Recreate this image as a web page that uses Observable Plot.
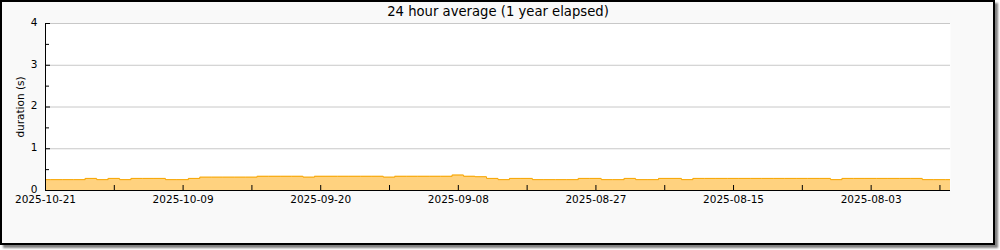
<!DOCTYPE html>
<html><head><meta charset="utf-8">
<script src="https://cdn.jsdelivr.net/npm/d3@7"></script>
<script src="https://cdn.jsdelivr.net/npm/@observablehq/plot@0.6"></script>
<style>
html,body{margin:0;padding:0;background:#fff;}
#wrap{position:relative;width:1000px;height:250px;overflow:hidden;}
#frame{position:absolute;left:0;top:0;width:995px;height:245px;box-sizing:border-box;border:2px solid #000;background:#f9f9f9;box-shadow:3px 3px 2px #808080;}
#chart{position:absolute;left:0;top:0;}
</style></head><body>
<div id="wrap"><div id="frame"></div><div id="chart"></div></div>
<script>
const title = "24 hour average (1 year elapsed)";
const yLabel = "duration (s)";
const tickLabels = ["2025-10-21","2025-10-09","2025-09-20","2025-09-08","2025-08-27","2025-08-15","2025-08-03"];
const majorTickDays = [0, 12, 24, 36, 48, 60, 72];
const minorTickDays = [6, 18, 30, 42, 54, 66, 78];
const yTicks = [0, 1, 2, 3, 4];
const yMinorTicks = [0.5, 1.5, 2.5, 3.5];
const xDomain = [0, 78.92];
const firstDay = -0.54;
const dailyValues = [
  0.26, 0.26, 0.26, 0.26, 0.29, 0.26, 0.29, 0.26, 0.29, 0.29,
  0.29, 0.26, 0.26, 0.29, 0.32, 0.32, 0.32, 0.32, 0.32, 0.34,
  0.34, 0.34, 0.34, 0.32, 0.34, 0.34, 0.34, 0.34, 0.34, 0.34,
  0.32, 0.34, 0.34, 0.34, 0.34, 0.34, 0.37, 0.34, 0.33, 0.29,
  0.26, 0.29, 0.29, 0.26, 0.26, 0.26, 0.26, 0.29, 0.29, 0.26,
  0.26, 0.29, 0.26, 0.26, 0.29, 0.29, 0.26, 0.29, 0.29, 0.29,
  0.29, 0.29, 0.29, 0.29, 0.29, 0.29, 0.29, 0.29, 0.29, 0.26,
  0.29, 0.29, 0.29, 0.29, 0.29, 0.29, 0.29, 0.26, 0.26, 0.26
];

const rows = dailyValues.map((v, i) => ({day: firstDay + i, v}));
rows.push({day: firstDay + dailyValues.length, v: dailyValues[dailyValues.length - 1]});

const plot = Plot.plot({
  width: 1000, height: 250,
  marginLeft: 45, marginRight: 50, marginTop: 23, marginBottom: 60,
  style: {background: "transparent", fontFamily: "'DejaVu Sans', sans-serif", fontSize: "10.5px", color: "#000"},
  x: {domain: xDomain},
  y: {domain: [0, 4]},
  marks: [
    Plot.frame({fill: "white", stroke: null}),
    Plot.gridY(yTicks.slice(1), {stroke: "#c8c8c8", strokeOpacity: 1}),
    Plot.areaY(rows, {x: "day", y: "v", curve: "step-after", fill: "#ffd27f", clip: true}),
    Plot.lineY(rows, {x: "day", y: "v", curve: "step-after", stroke: "#f7a600", strokeWidth: 1, clip: true}),
    Plot.axisY(yTicks, {anchor: "left", tickSize: 5, dx: 5, stroke: "#000", fill: "none", label: null}),
    Plot.axisY(yMinorTicks, {anchor: "left", tickSize: 4, dx: 4, stroke: "#000", fill: "none", label: null}),
    Plot.axisY(yTicks, {anchor: "left", tickSize: 0, tickPadding: 8, dy: -1, fill: "#000", label: null}),
    Plot.axisX([...majorTickDays, ...minorTickDays], {anchor: "bottom", tickSize: 5, dy: -5, stroke: "#000", fill: "none", label: null}),
    Plot.axisX(majorTickDays, {anchor: "bottom", tickSize: 0, tickPadding: 5, fill: "#000", label: null,
      tickFormat: d => tickLabels[majorTickDays.indexOf(d)]}),
    Plot.ruleX([0], {stroke: "#000"}),
    Plot.ruleY([0], {stroke: "#000"}),
    Plot.text([title], {frameAnchor: "top", dy: -12, fontSize: 13.2, lineAnchor: "middle", textAnchor: "middle", fill: "#000"}),
    Plot.text([yLabel], {frameAnchor: "left", rotate: -90, dx: -25, textAnchor: "middle", lineAnchor: "middle", fill: "#000"})
  ]
});
document.getElementById("chart").appendChild(plot);
</script>
</body></html>
